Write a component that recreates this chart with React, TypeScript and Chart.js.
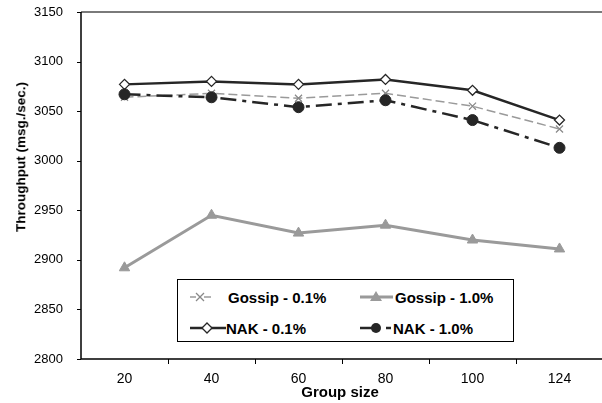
import React, { useEffect, useRef } from "react";
import { Chart, registerables } from "chart.js";

Chart.register(...registerables);

const categories = ["20", "40", "60", "80", "100", "124"];
const gossip01 = [3064, 3068, 3063, 3068, 3055, 3032];
const gossip10 = [2892, 2945, 2927, 2935, 2920, 2911];
const nak01 = [3077, 3080, 3077, 3082, 3071, 3041];
const nak10 = [3067, 3064, 3054, 3061, 3041, 3013];
const yTicks = [2800, 2850, 2900, 2950, 3000, 3050, 3100, 3150];
const seriesNames = ["Gossip - 0.1%", "Gossip - 1.0%", "NAK - 0.1%", "NAK - 1.0%"];
const yTitle = "Throughput (msg./sec.)";
const xTitle = "Group size";

const FONT = "'Liberation Sans', Arial, sans-serif";
const GRAY = "#9a9a9a";
const DARK = "#262626";
const CLEAR = "rgba(0,0,0,0)";

const axesPlugin = {
  id: "axesDecor",
  beforeDatasetsDraw(chart: any) {
    const { ctx, chartArea } = chart;
    const yScale = chart.scales.y;
    ctx.save();
    ctx.strokeStyle = "#7a7a7a";
    ctx.lineWidth = 2;
    ctx.beginPath();
    ctx.moveTo(chartArea.left, chartArea.top);
    ctx.lineTo(chartArea.right + 2, chartArea.top);
    ctx.stroke();

    ctx.strokeStyle = "#000";
    ctx.lineWidth = 1.5;
    ctx.beginPath();
    ctx.moveTo(chartArea.left, chartArea.top);
    ctx.lineTo(chartArea.left, chartArea.bottom);
    ctx.lineTo(chartArea.right + 2, chartArea.bottom);
    ctx.stroke();

    ctx.lineWidth = 1;
    ctx.beginPath();
    yTicks.forEach((v) => {
      const y = Math.round(yScale.getPixelForValue(v)) + 0.5;
      ctx.moveTo(chartArea.left - 4, y);
      ctx.lineTo(chartArea.left, y);
    });
    const step = (chartArea.right - chartArea.left) / categories.length;
    for (let i = 1; i < categories.length; i++) {
      const x = Math.round(chartArea.left + i * step) + 0.5;
      ctx.moveTo(x, chartArea.bottom);
      ctx.lineTo(x, chartArea.bottom + 5);
    }
    ctx.stroke();
    ctx.restore();
  },
};

const legendText: React.CSSProperties = {
  position: "absolute",
  transform: "translateY(-50%)",
  font: `bold 15px ${FONT}`,
  lineHeight: 1,
  whiteSpace: "nowrap",
  color: "#000",
};

function Legend() {
  const r1 = 18;
  const r2 = 49;
  return (
    <div
      style={{
        position: "absolute",
        left: 177,
        top: 279,
        width: 337,
        height: 63,
        boxSizing: "border-box",
        border: "1px solid #000",
        background: "#fff",
      }}
    >
      <svg width={335} height={61} style={{ position: "absolute", left: 0, top: 0 }}>
        <g stroke={GRAY} strokeWidth={1.5}>
          <line x1={12} y1={r1 - 1} x2={18} y2={r1 - 1} />
          <line x1={26} y1={r1 - 1} x2={33} y2={r1 - 1} />
        </g>
        <g stroke="#888" strokeWidth={1.2}>
          <line x1={18} y1={r1 - 5} x2={26} y2={r1 + 3} />
          <line x1={26} y1={r1 - 5} x2={18} y2={r1 + 3} />
        </g>
        <line x1={182} y1={r1 - 1} x2={215} y2={r1 - 1} stroke={GRAY} strokeWidth={3} />
        <polygon points={`198,${r1 - 7} 204,${r1 + 3} 192,${r1 + 3}`} fill={GRAY} />
        <line x1={12} y1={r2 - 1} x2={48} y2={r2 - 1} stroke={DARK} strokeWidth={2.5} />
        <polygon
          points={`29,${r2 - 6} 34,${r2 - 1} 29,${r2 + 4} 24,${r2 - 1}`}
          fill="#fff"
          stroke={DARK}
          strokeWidth={1.3}
        />
        <line x1={182} y1={r2 - 1} x2={198} y2={r2 - 1} stroke={DARK} strokeWidth={2.5} />
        <line x1={208} y1={r2 - 1} x2={213} y2={r2 - 1} stroke={DARK} strokeWidth={2.5} />
        <circle cx={198} cy={r2 - 1} r={5} fill={DARK} />
      </svg>
      <span style={{ ...legendText, left: 50, top: r1 - 1 }}>{seriesNames[0]}</span>
      <span style={{ ...legendText, left: 217, top: r1 - 1 }}>{seriesNames[1]}</span>
      <span style={{ ...legendText, left: 48, top: r2 - 1 }}>{seriesNames[2]}</span>
      <span style={{ ...legendText, left: 215, top: r2 - 1 }}>{seriesNames[3]}</span>
    </div>
  );
}

export default function App() {
  const ref = useRef<HTMLCanvasElement | null>(null);
  useEffect(() => {
    if (!ref.current) return;
    const chart = new Chart(ref.current, {
      type: "line",
      data: {
        labels: categories,
        datasets: [
          {
            label: seriesNames[3],
            data: nak10,
            borderColor: DARK,
            borderWidth: 2.5,
            borderDash: [16, 6, 4, 6],
            pointStyle: "circle",
            pointRadius: 5.5,
            pointBackgroundColor: DARK,
            pointBorderColor: DARK,
            pointBorderWidth: 1,
            tension: 0,
          },
          {
            label: seriesNames[2],
            data: nak01,
            borderColor: DARK,
            borderWidth: 2.5,
            pointStyle: "rectRot",
            pointRadius: 5,
            pointBackgroundColor: "#fff",
            pointBorderColor: DARK,
            pointBorderWidth: 1.3,
            tension: 0,
          },
          {
            label: seriesNames[0],
            data: gossip01,
            borderColor: GRAY,
            borderWidth: 1.5,
            borderDash: [9, 4],
            pointStyle: "crossRot",
            pointRadius: 5,
            pointBorderColor: "#888",
            pointBorderWidth: 1.2,
            tension: 0,
          },
          {
            label: seriesNames[1],
            data: gossip10,
            borderColor: GRAY,
            borderWidth: 3,
            pointStyle: "triangle",
            pointRadius: 6,
            pointBackgroundColor: GRAY,
            pointBorderColor: GRAY,
            pointBorderWidth: 1,
            tension: 0,
          },
        ],
      },
      options: {
        animation: false,
        responsive: false,
        devicePixelRatio: 1,
        layout: { padding: { top: 12, right: 9, left: 0, bottom: 0 } },
        plugins: { legend: { display: false }, tooltip: { enabled: false } },
        scales: {
          x: {
            type: "category",
            offset: true,
            grid: {
              offset: true,
              drawOnChartArea: false,
              drawTicks: true,
              tickLength: 5,
              color: CLEAR,
              lineWidth: 1,
            },
            border: { display: false },
            ticks: { color: "#000", font: { family: FONT, size: 14 }, padding: 7, maxRotation: 0 },
            afterFit: (s: any) => { s.height = 44; s.paddingLeft = 0; s.paddingRight = 0; },
          },
          y: {
            min: yTicks[0],
            max: yTicks[yTicks.length - 1],
            grid: {
              drawOnChartArea: false,
              drawTicks: true,
              tickLength: 4,
              color: CLEAR,
              lineWidth: 1,
            },
            border: { display: false },
            ticks: {
              stepSize: 50,
              color: "#000",
              font: { family: FONT, size: 13 },
              padding: 14,
              callback: (v: any) => String(v),
            },
            afterFit: (s: any) => { s.width = 81; s.paddingTop = 0; s.paddingBottom = 0; },
          },
        },
      },
      plugins: [axesPlugin],
    });
    return () => chart.destroy();
  }, []);
  return (
    <div style={{ position: "fixed", left: 0, top: 0, width: 602, height: 403, overflow: "hidden", background: "#fff" }}>
      <canvas ref={ref} width={612} height={403} style={{ display: "block", position: "absolute", left: 0, top: 0 }} />
      <div
        style={{
          position: "absolute",
          left: 21,
          top: 157,
          transform: "translate(-50%, -50%) rotate(-90deg)",
          font: `bold 13.5px ${FONT}`,
          lineHeight: 1,
          whiteSpace: "nowrap",
          color: "#000",
        }}
      >
        {yTitle}
      </div>
      <div
        style={{
          position: "absolute",
          left: 340,
          top: 391,
          transform: "translate(-50%, -50%)",
          font: `bold 15px ${FONT}`,
          lineHeight: 1,
          whiteSpace: "nowrap",
          color: "#000",
        }}
      >
        {xTitle}
      </div>
      <Legend />
    </div>
  );
}
